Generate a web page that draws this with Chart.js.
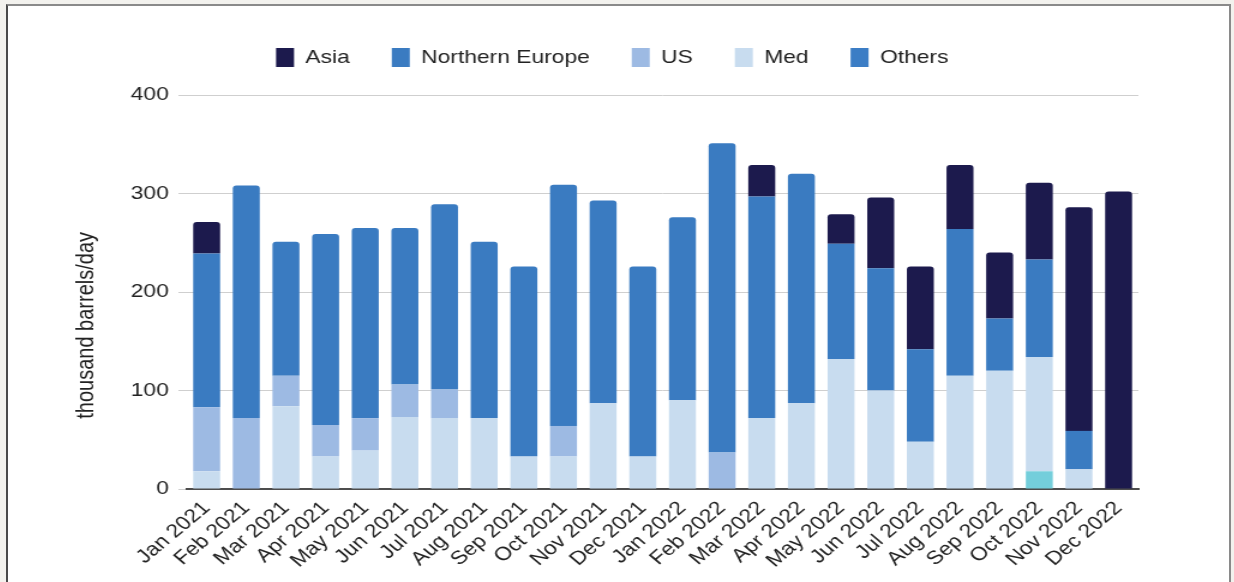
<!DOCTYPE html>
<html>
<head>
<meta charset="utf-8">
<script src="https://cdn.jsdelivr.net/npm/chart.js@4.4.0/dist/chart.umd.min.js"></script>
<style>
  html, body { margin: 0; padding: 0; background: #f3f2ee; }
  #frame {
    position: absolute; left: 6px; top: 4px; width: 1221px; height: 576px;
    background: #fff; overflow: hidden;
    border-top: 2px solid #8a8a8a; border-left: 2px solid #4a4a4a; border-right: 2px solid #8a8a8a;
  }
  /* the source picture is stretched sideways, so the canvas is too */
  #chart { display: block; transform: scaleX(1.2); transform-origin: 0 0; }
</style>
</head>
<body>
<div id="frame"><canvas id="chart" width="1018" height="576"></canvas></div>
<script>
// meses (eixo x)
const meses = [
  'Jan 2021', 'Feb 2021', 'Mar 2021', 'Apr 2021', 'May 2021', 'Jun 2021',
  'Jul 2021', 'Aug 2021', 'Sep 2021', 'Oct 2021', 'Nov 2021', 'Dec 2021',
  'Jan 2022', 'Feb 2022', 'Mar 2022', 'Apr 2022', 'May 2022', 'Jun 2022',
  'Jul 2022', 'Aug 2022', 'Sep 2022', 'Oct 2022', 'Nov 2022', 'Dec 2022'
];

// valores em mil barris/dia
const asia =           [32, 0, 0, 0, 0, 0, 0, 0, 0, 0, 0, 0,   0, 0, 32, 0, 30, 72, 84, 65, 67, 78, 227, 302];
const northernEurope = [156, 236, 136, 194, 193, 159, 188, 179, 193, 245, 206, 193,   186, 314, 225, 233, 117, 124, 94, 149, 53, 99, 39, 0];
const us =             [65, 72, 31, 32, 33, 33, 29, 0, 0, 31, 0, 0,   0, 37, 0, 0, 0, 0, 0, 0, 0, 0, 0, 0];
const med =            [18, 0, 84, 33, 39, 73, 72, 72, 33, 33, 87, 33,   90, 0, 72, 87, 132, 100, 48, 115, 120, 116, 20, 0];
const others =         [0, 0, 0, 0, 0, 0, 0, 0, 0, 0, 0, 0,   0, 0, 0, 0, 0, 0, 0, 0, 0, 18, 0, 0];

const yTicks = [0, 100, 200, 300, 400];
const yTitle = 'thousand barrels/day';

const fonte = "'Liberation Sans', Arial, sans-serif";

// ordem de empilhamento: de baixo para cima
const series = [
  { label: 'Others', data: others, cor: '#74cedb', corLegenda: '#3b7dc5' },
  { label: 'Med', data: med, cor: '#c8dcef' },
  { label: 'US', data: us, cor: '#9dbae3' },
  { label: 'Northern Europe', data: northernEurope, cor: '#3a7bc1' },
  { label: 'Asia', data: asia, cor: '#1c1a4d' }
];

// segmento mais alto de cada barra leva cantos arredondados
function topoDaPilha(i) {
  let topo = -1;
  series.forEach((s, d) => { if (s.data[i] > 0) topo = d; });
  return topo;
}

// espaço extra abaixo da legenda e pequeno deslocamento para a direita
const ajusteLegenda = {
  id: 'ajusteLegenda',
  beforeInit(chart) {
    const fitOriginal = chart.legend.fit;
    chart.legend.fit = function () {
      fitOriginal.bind(chart.legend)();
      this.height += 18;
    };
  },
  afterLayout(chart) {
    chart.legend.left += 8;
    chart.legend.right += 8;
  }
};

new Chart(document.getElementById('chart'), {
  type: 'bar',
  data: {
    labels: meses,
    datasets: series.map((s, d) => ({
      label: s.label,
      data: s.data,
      backgroundColor: s.cor,
      borderWidth: 0,
      borderRadius: ctx => topoDaPilha(ctx.dataIndex) === d
        ? { topLeft: 3, topRight: 3, bottomLeft: 0, bottomRight: 0 }
        : 0,
      barPercentage: 0.68,
      categoryPercentage: 1
    }))
  },
  options: {
    responsive: false,
    animation: false,
    devicePixelRatio: 1,
    layout: { padding: { left: 49, right: 76, top: 7, bottom: 0 } },
    plugins: {
      tooltip: { enabled: false },
      legend: {
        position: 'top',
        reverse: true,
        labels: {
          boxWidth: 15,
          boxHeight: 19,
          padding: 35,
          color: '#222',
          font: { family: fonte, size: 19 },
          generateLabels(chart) {
            const itens = Chart.defaults.plugins.legend.labels.generateLabels(chart);
            itens.forEach(it => {
              const s = series[it.datasetIndex];
              if (s.corLegenda) it.fillStyle = s.corLegenda;
              it.lineWidth = 0;
            });
            return itens;
          }
        }
      }
    },
    scales: {
      x: {
        stacked: true,
        grid: { display: false, drawTicks: false },
        border: { display: true, color: '#4d4d4d', width: 2 },
        ticks: {
          color: '#222',
          font: { family: fonte, size: 19 },
          minRotation: 45,
          maxRotation: 45,
          padding: 8,
          autoSkip: false
        },
        afterFit(scale) { scale.height = 93; }
      },
      y: {
        stacked: true,
        min: yTicks[0],
        max: yTicks[yTicks.length - 1],
        afterBuildTicks(scale) { scale.ticks = yTicks.map(v => ({ value: v })); },
        grid: { color: '#cfcfcf', lineWidth: 1, tickLength: 7, tickColor: '#cfcfcf' },
        border: { display: false },
        ticks: {
          color: '#222',
          font: { family: fonte, size: 19 },
          padding: 8
        },
        title: {
          display: true,
          text: yTitle + '            ',
          color: '#222',
          font: { family: fonte, size: 20 },
          padding: { top: 4, bottom: 4 }
        },
        afterFit(scale) { scale.width = 100; }
      }
    }
  },
  plugins: [ajusteLegenda]
});
</script>
</body>
</html>
